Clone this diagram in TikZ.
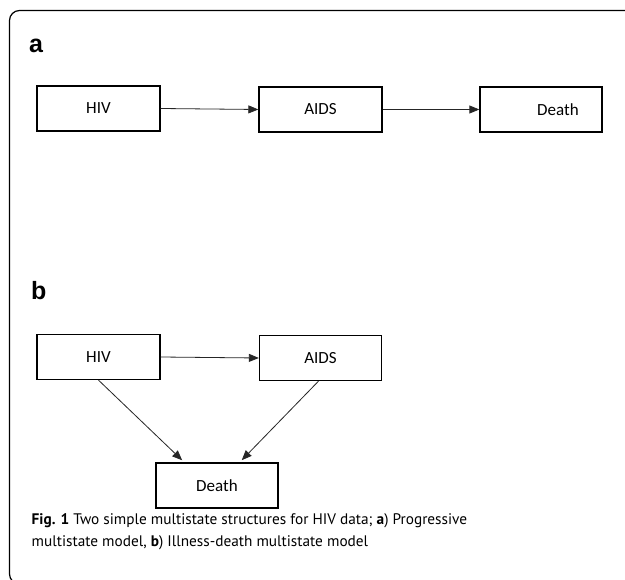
\documentclass[tikz,border=0pt]{standalone}
\usepackage{fontspec}
\setmainfont{Carlito}
\newfontfamily\labfont{Liberation Sans}
\newfontfamily\capfont{PT Sans}
\usetikzlibrary{arrows.meta}
\tikzset{
  state/.style={draw=black, line width=1.3pt, minimum width=123pt, minimum height=45pt, inner sep=0pt, font=\fontsize{17}{19}\selectfont},
  conn/.style={draw=black!85, line width=0.8pt, -{Triangle[length=10pt,width=8pt]}},
  panel/.style={font=\labfont\bfseries\fontsize{25}{28}\selectfont, anchor=base west, inner sep=0pt},
  captext/.style={font=\capfont\fontsize{15.3}{18}\selectfont, anchor=base west, inner sep=0pt}
}
\begin{document}
\begin{tikzpicture}[x=1pt,y=-1pt]
\useasboundingbox (0,0) rectangle (625,580);
\clip (0,0) rectangle (625,580);
\fill[white] (0,0) rectangle (625,580);
\draw[line width=1.2pt, rounded corners=10pt] (626,10.5) -- (9.5,10.5) -- (9.5,584) -- (60,584);
% panel a
\node[panel] (la) at (29,53) {a};
\node[state] (hiva) at (98.5,108.5) {HIV};
\node[state] (aidsa) at (320.5,109.5) {AIDS};
\node[state, minimum width=122pt] (deatha) at (541,109.5) {\hspace*{34pt}Death};
\draw[conn] (hiva.east) -- (aidsa.west);
\draw[conn] (aidsa.east) -- (deatha.west);
% panel b
\node[panel] (lb) at (31,300) {b};
\node[state] (hivb) at (98.5,357) {HIV};
\node[state, minimum width=122pt] (aidsb) at (320.5,358) {AIDS};
\node[state, minimum width=122pt] (deathb) at (217,485.5) {Death};
\draw[conn] (hivb.east) -- (aidsb.west);
\draw[conn, shorten >=3pt] (hivb.south) -- ([xshift=29pt]deathb.north west);
\draw[conn, shorten >=3pt] ([xshift=-2pt]aidsb.south) -- ([xshift=-39pt]deathb.north east);
% caption
\node[captext] (c1) at (31.5,525) {\textbf{Fig. 1} Two simple multistate structures for HIV data; \textbf{a}) Progressive};
\node[captext] (c2) at (31.5,547) {multistate model, \textbf{b}) Illness-death multistate model};
\end{tikzpicture}
\end{document}
